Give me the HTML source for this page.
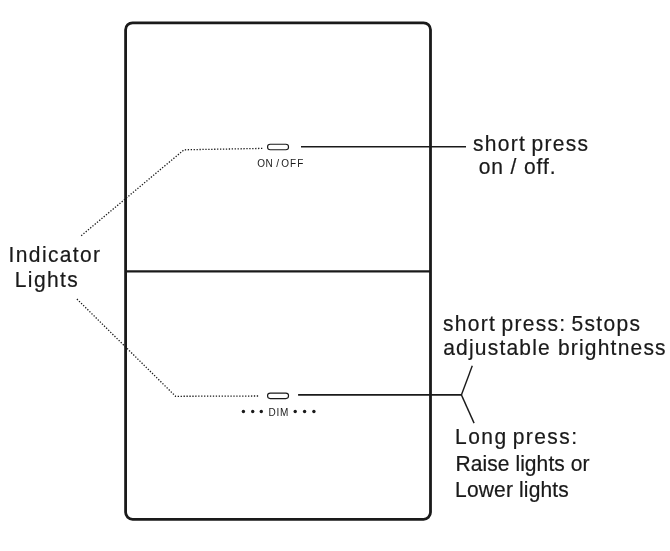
<!DOCTYPE html>
<html>
<head>
<meta charset="utf-8">
<title>Switch diagram</title>
<style>
html,body{margin:0;padding:0;background:#fff;}
body{width:670px;height:551px;overflow:hidden;}
svg{display:block;opacity:.999;will-change:transform;}
text{font-family:"Liberation Sans",Arial,sans-serif;fill:#1a1a1a;}
.big{font-size:21px;stroke:#1a1a1a;stroke-width:0.22px;}
.small{font-size:10px;letter-spacing:0.4px;}
</style>
</head>
<body>
<svg width="670" height="551" viewBox="0 0 670 551">
  <rect x="0" y="0" width="670" height="551" fill="#ffffff"/>
  <!-- panel -->
  <rect x="125.6" y="22.8" width="304.9" height="496.5" rx="7" ry="7" fill="none" stroke="#1a1a1a" stroke-width="2.8"/>
  <line x1="125.7" y1="271.3" x2="430.5" y2="271.3" stroke="#1a1a1a" stroke-width="2.2"/>

  <!-- indicator pills -->
  <rect x="267.55" y="144.25" width="21" height="5.5" rx="2.75" ry="2.75" fill="#fff" stroke="#1a1a1a" stroke-width="1.15"/>
  <rect x="267.55" y="393.1" width="21" height="5.5" rx="2.75" ry="2.75" fill="#fff" stroke="#1a1a1a" stroke-width="1.15"/>

  <!-- solid leader lines -->
  <line x1="301" y1="146.7" x2="466" y2="146.7" stroke="#1a1a1a" stroke-width="1.4"/>
  <line x1="298.1" y1="394.9" x2="461.4" y2="394.9" stroke="#1a1a1a" stroke-width="1.7"/>
  <line x1="461.4" y1="394.9" x2="472.3" y2="365.8" stroke="#1a1a1a" stroke-width="1.4"/>
  <line x1="461.4" y1="394.9" x2="474.1" y2="423.1" stroke="#1a1a1a" stroke-width="1.4"/>

  <!-- dotted leader lines -->
  <polyline points="262.3,148.4 184,149.8 81,235.9" fill="none" stroke="#1a1a1a" stroke-width="1.3" stroke-dasharray="1.3 1.63"/>
  <polyline points="258.1,396 175.6,396.3 76.9,299" fill="none" stroke="#1a1a1a" stroke-width="1.3" stroke-dasharray="1.3 1.63"/>

  <!-- dots -->
  <g fill="#1a1a1a">
    <circle cx="243.4" cy="411.5" r="1.7"/><circle cx="252.7" cy="411.5" r="1.7"/><circle cx="261.3" cy="411.5" r="1.7"/>
    <circle cx="295.2" cy="411.5" r="1.7"/><circle cx="304.6" cy="411.5" r="1.7"/><circle cx="313.9" cy="411.5" r="1.7"/>
  </g>

  <!-- small labels -->
  <text class="small" x="257.3" y="167.2">ON / <tspan dx="-1.3" style="letter-spacing:0.95px">OFF</tspan></text>
  <text class="small" x="268.6" y="415.8" style="letter-spacing:0.75px">DIM</text>

  <!-- big labels -->
  <text class="big" transform="translate(8.6 262.4) scale(1 1.02)" style="letter-spacing:1.37px">Indicator</text>
  <text class="big" transform="translate(14.7 286.55) scale(1 1.02)" style="letter-spacing:1.42px">Lights</text>

  <text class="big" transform="translate(473 150.7) scale(1 1.02)" style="letter-spacing:1.3px;word-spacing:-1.8px">short press</text>
  <text class="big" transform="translate(478.7 174.1) scale(1 1.02)" style="letter-spacing:0.9px">on / off.</text>

  <text class="big" transform="translate(443 331.2) scale(1 1.02)" style="letter-spacing:1.3px;word-spacing:-1.9px">short press: 5stops</text>
  <text class="big" transform="translate(443.2 354.8) scale(1 1.02)" style="letter-spacing:1.2px">adjustable brightness</text>

  <text class="big" transform="translate(455.1 444.2) scale(1 1.02)" style="letter-spacing:1.42px;word-spacing:-2px">Long press:</text>
  <text class="big" transform="translate(455.4 470.6) scale(1 1.02)" style="letter-spacing:0.08px">Raise lights or</text>
  <text class="big" transform="translate(455.1 496.7) scale(1 1.02)" style="letter-spacing:0.15px">Lower lights</text>
</svg>
</body>
</html>
